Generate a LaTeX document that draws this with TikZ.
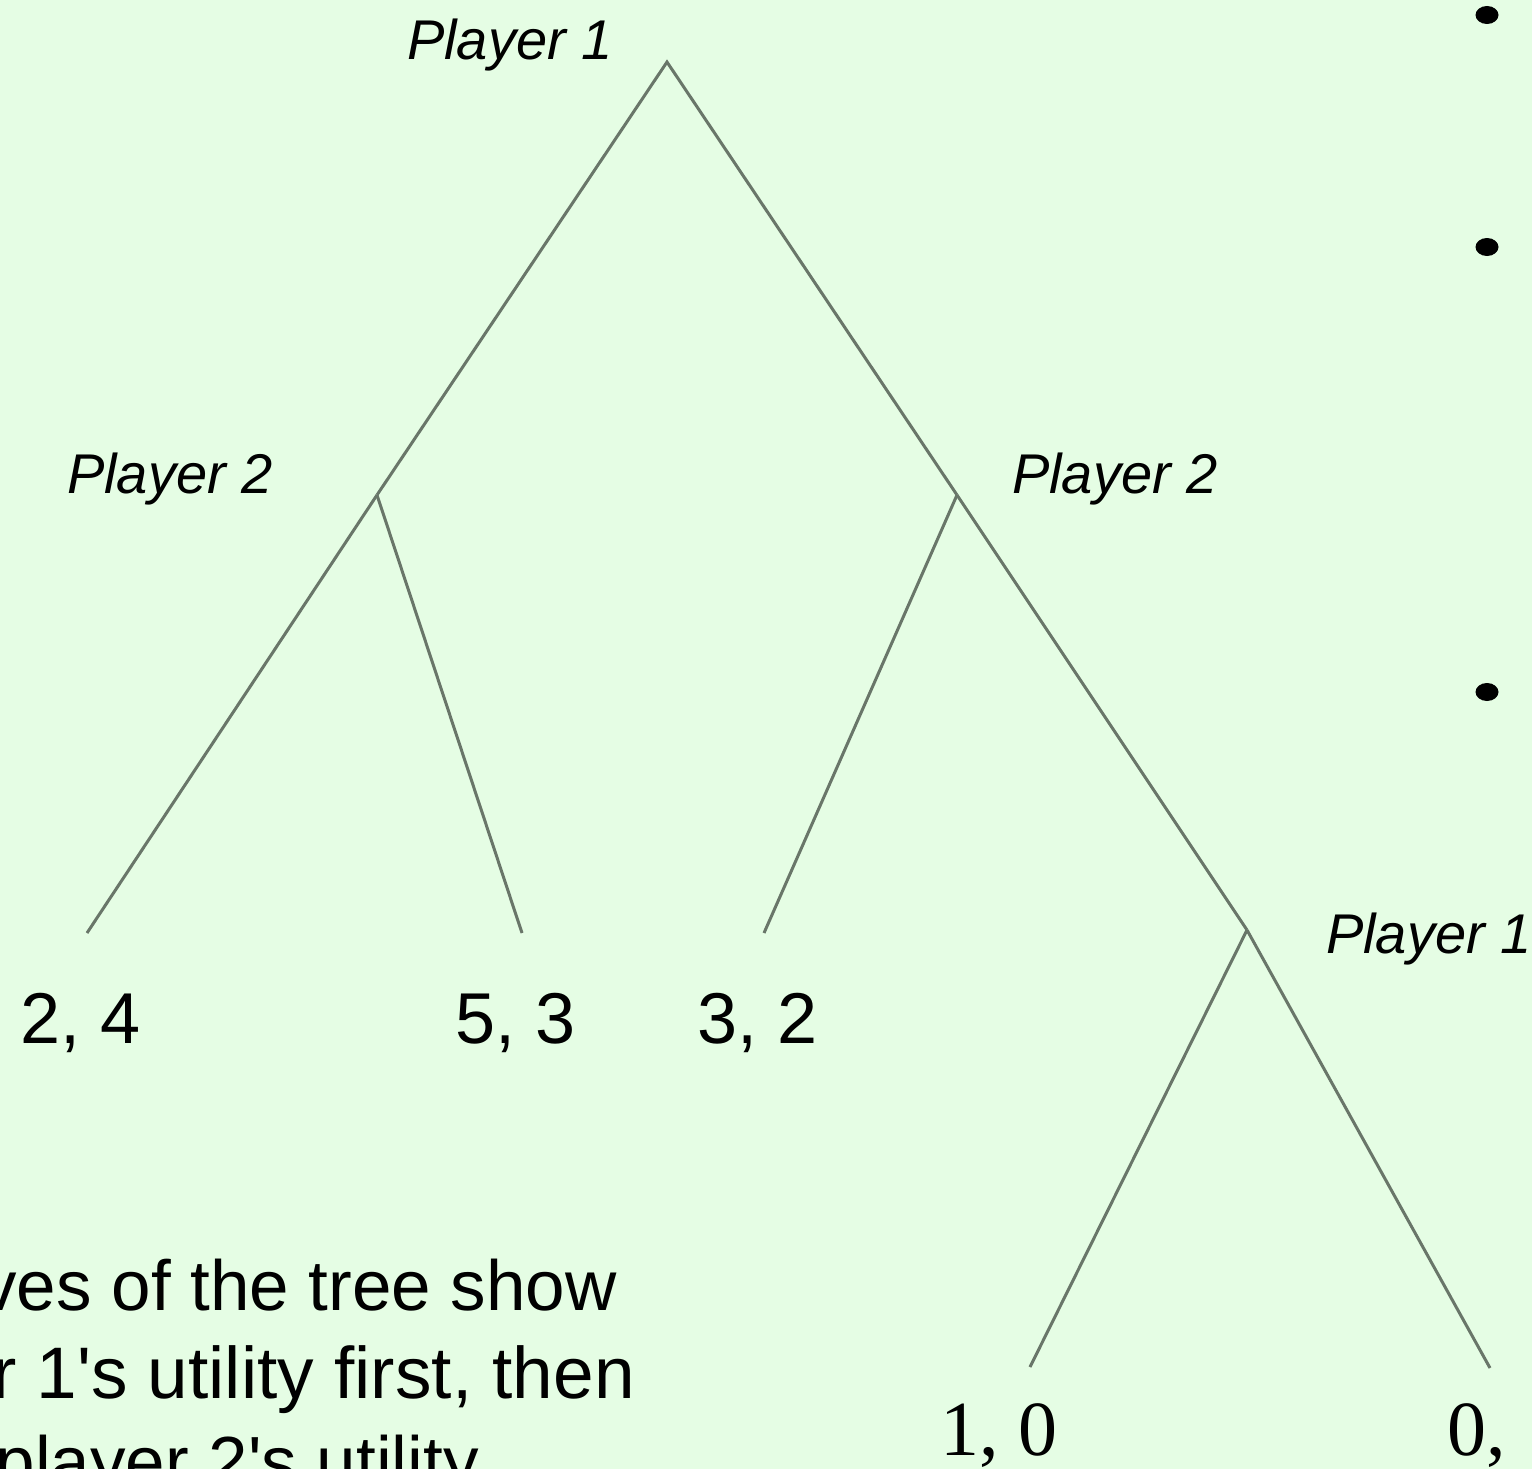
\documentclass[tikz,border=0pt]{standalone}
\usepackage{fontspec}
\usetikzlibrary{shapes.geometric}
\setmainfont{Liberation Sans}
\newfontfamily\serifnum{Liberation Serif}
\newfontfamily\notefont{Liberation Sans}
\definecolor{bgg}{RGB}{229,253,228}
\definecolor{edgeg}{RGB}{105,118,105}
\begin{document}
\begin{tikzpicture}[x=1pt,y=-1pt,
  edge/.style={draw=edgeg,line width=3pt},
  plabel/.style={inner sep=0pt,anchor=base west,font=\fontsize{56}{62}\selectfont\itshape},
  payoff/.style={inner sep=0pt,anchor=base west,font=\fontsize{72}{80}\selectfont},
  spayoff/.style={inner sep=0pt,anchor=base west,font=\fontsize{78}{84}\selectfont\serifnum},
  note/.style={inner sep=0pt,anchor=base east,font=\fontsize{71}{84}\selectfont\notefont},
  bullet/.style={ellipse,fill=black,inner sep=0pt,minimum width=23pt,minimum height=18pt}]
\useasboundingbox (0,0) rectangle (1532,1469);
\fill[bgg] (0,0) rectangle (1532,1469);
\clip (0,0) rectangle (1532,1469);
% tree points
\coordinate (root) at (667,62);
\coordinate (p2l) at (377,495);
\coordinate (p2r) at (957,495);
\coordinate (p1b) at (1247,930);
\coordinate (l1) at (87,933);
\coordinate (l2) at (522,933);
\coordinate (l3) at (764,933);
\coordinate (l4) at (1030,1367);
\coordinate (l5) at (1490,1368);
\draw[edge,line join=miter] (p2l) -- (root) -- (p2r);
\draw[edge] (p2l) -- (l1);
\draw[edge] (p2l) -- (l2);
\draw[edge] (p2r) -- (l3);
\draw[edge] (p2r) -- (p1b);
\draw[edge] (p1b) -- (l4);
\draw[edge] (p1b) -- (l5);
% player labels
\node[plabel] (t1) at (407,60) {Player 1};
\node[plabel] (t2) at (67,493) {Player 2};
\node[plabel] (t3) at (1012,493) {Player 2};
\node[plabel] (t4) at (1326,953) {Player 1};
% payoffs
\node[payoff] (v1) at (20,1043) {2, 4};
\node[payoff] (v2) at (455,1043) {5, 3};
\node[payoff] (v3) at (697,1043) {3, 2};
\node[spayoff] (v4) at (940,1455) {1, 0};
\node[spayoff] (v5) at (1447,1455) {0,};
% note text
\node[note] (n1) at (617,1310) {ves of the tree show};
\node[note,font=\fontsize{73}{84}\selectfont\notefont] (n2) at (635,1398) {r 1's utility first, then};
\node[note] (n3) at (479,1486) {player 2's utility};
% bullets
\node[bullet] (b1) at (1487,15) {};
\node[bullet] (b2) at (1487,247) {};
\node[bullet] (b3) at (1487,692) {};
\end{tikzpicture}
\end{document}
